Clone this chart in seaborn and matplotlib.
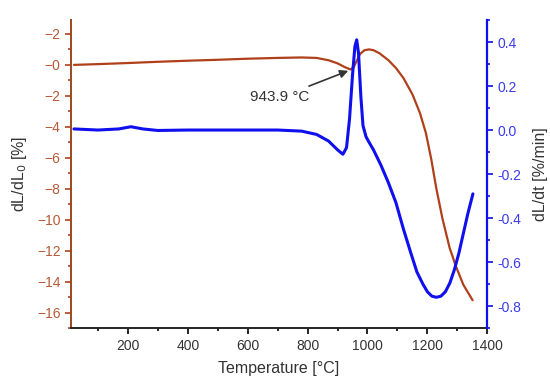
import pandas as pd
import matplotlib
matplotlib.use("Agg")
import matplotlib.pyplot as plt
import seaborn as sns
from matplotlib.ticker import MultipleLocator

# -------------------------
# DATA
# -------------------------
temp_dl = [20, 100, 200, 300, 400, 500, 600, 700, 780, 830, 870, 900, 925, 944,
           955, 965, 975, 990, 1005, 1020, 1040, 1070, 1095, 1120, 1150, 1175,
           1195, 1213, 1230, 1250, 1274, 1295, 1320, 1351]
dl = [0.0, 0.05, 0.12, 0.2, 0.27, 0.33, 0.4, 0.45, 0.48, 0.45, 0.3, 0.1, -0.15, -0.3,
      -0.1, 0.3, 0.7, 0.95, 1.0, 0.95, 0.75, 0.3, -0.2, -0.85, -1.9, -3.1,
      -4.4, -6.1, -8.0, -9.9, -11.8, -13.0, -14.2, -15.2]

temp_rate = [20, 100, 170, 210, 250, 300, 400, 500, 600, 700, 780, 830,
             870, 900, 918, 930, 940, 950, 958, 964, 970, 978, 985, 995, 1005,
             1020, 1045, 1070, 1095, 1120, 1145, 1165, 1185, 1200, 1215, 1230,
             1245, 1260, 1275, 1290, 1305, 1320, 1335, 1352]
rate = [0.005, 0.0, 0.005, 0.015, 0.005, -0.002, 0.0, 0.0, 0.0, 0.0, -0.005, -0.02,
        -0.05, -0.09, -0.11, -0.08, 0.05, 0.25, 0.38, 0.41, 0.35, 0.15, 0.02, -0.03, -0.055,
        -0.09, -0.16, -0.24, -0.33, -0.45, -0.56, -0.645, -0.70, -0.735, -0.755, -0.76,
        -0.755, -0.735, -0.695, -0.635, -0.56, -0.47, -0.38, -0.29]

x_ticks = [200, 400, 600, 800, 1000, 1200, 1400]
left_ticks = [2, 0, -2, -4, -6, -8, -10, -12, -14, -16]
left_labels = ["−2", "−0", "−2", "−4", "−6", "−8", "−10", "−12", "−14", "−16"]
right_ticks = [0.4, 0.2, 0.0, -0.2, -0.4, -0.6, -0.8]
right_labels = ["0.4", "0.2", "0.0", "-0.2", "-0.4", "-0.6", "-0.8"]

df_dl = pd.DataFrame({"T": temp_dl, "dL": dl})
df_rate = pd.DataFrame({"T": temp_rate, "rate": rate})

# -------------------------
# STYLE
# -------------------------
sns.set_style("ticks")
plt.rcParams["font.family"] = ["Liberation Sans", "DejaVu Sans"]

RED = "#b0401a"
RED_AX = "#9a4a1c"
RED_TXT = "#b85a36"
BLUE = "#1010ee"
BLUE_TXT = "#3a3aee"

fig = plt.figure(figsize=(5.5, 3.92), dpi=100)
ax = fig.add_axes([0.129, 0.163, 0.757, 0.786])
ax2 = ax.twinx()

sns.lineplot(data=df_dl, x="T", y="dL", ax=ax, color=RED, linewidth=1.6, sort=False)
sns.lineplot(data=df_rate, x="T", y="rate", ax=ax2, color=BLUE, linewidth=2.2, sort=False)

# -------------------------
# AXES
# -------------------------
ax.set_xlim(10, 1400)
ax.set_ylim(-17, 2.9)
ax2.set_ylim(-0.9, 0.5)

ax.set_xticks(x_ticks)
ax.xaxis.set_minor_locator(MultipleLocator(100))
ax.set_yticks(left_ticks)
ax.set_yticklabels(left_labels)
ax.yaxis.set_minor_locator(MultipleLocator(1))
ax2.set_yticks(right_ticks)
ax2.set_yticklabels(right_labels)
ax2.yaxis.set_minor_locator(MultipleLocator(0.1))

for a in (ax, ax2):
    a.spines["top"].set_visible(False)
ax.spines["right"].set_visible(False)
ax2.spines["left"].set_visible(False)
ax2.spines["bottom"].set_visible(False)
ax.spines["left"].set_color(RED_AX)
ax.spines["left"].set_linewidth(1.4)
ax.spines["bottom"].set_linewidth(1.4)
ax2.spines["right"].set_color(BLUE)
ax2.spines["right"].set_linewidth(1.6)

ax.tick_params(axis="x", which="both", direction="out", colors="black", labelsize=10,
               labelcolor="#333333")
ax.tick_params(axis="x", which="major", length=4, width=1.2)
ax.tick_params(axis="x", which="minor", length=2, width=1.2)
ax.tick_params(axis="y", which="both", direction="out", colors=RED, labelcolor=RED_TXT,
               labelsize=10)
ax.tick_params(axis="y", which="major", length=4, width=1.2)
ax.tick_params(axis="y", which="minor", length=2, width=1.2)
ax2.tick_params(axis="y", which="both", direction="out", colors=BLUE, labelcolor=BLUE_TXT,
                labelsize=10)
ax2.tick_params(axis="y", which="major", length=4, width=1.2)
ax2.tick_params(axis="y", which="minor", length=2, width=1.2)

ax.set_xlabel("Temperature [°C]", fontsize=11.5, color="#333333", labelpad=6)
ax.set_ylabel("dL/dL$_0$ [%]", fontsize=11.5, color="#333333", labelpad=6)
ax2.set_ylabel("dL/dt [%/min]", fontsize=11.5, color="#333333", labelpad=8)

# -------------------------
# ANNOTATION
# -------------------------
ax.annotate("943.9 °C", xy=(940, -0.35), xytext=(708, -2.1),
            fontsize=11, color="#333333", ha="center", va="center",
            arrowprops=dict(arrowstyle="-|>", color="#333333", lw=1.2,
                            mutation_scale=12, shrinkA=2, shrinkB=1))

plt.savefig("out.png", dpi=100)
